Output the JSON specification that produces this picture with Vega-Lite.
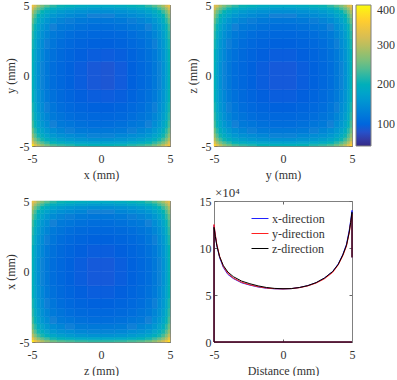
{"$schema":"https://vega.github.io/schema/vega-lite/v6.json","background":"white","padding":{"left":4,"top":-1,"right":0,"bottom":0},"columns":2,"bounds":"flush","spacing":{"row":55,"column":44},
"config":{"view":{"stroke":null},"font":"Liberation Serif","axis":{"labelFont":"Liberation Serif","titleFont":"Liberation Serif","labelFontSize":12,"titleFontSize":12,"titleFontWeight":"normal","labelColor":"#333333","titleColor":"#333333","domainColor":"#808080","tickColor":"#666666","tickSize":-3,"grid":false,"labelAngle":0,"labelFlush":false},"axisX":{"labelPadding":10,"titlePadding":5},"axisY":{"labelPadding":6,"titlePadding":2},"legend":{"labelFont":"Liberation Serif"}},
"datasets":{"cells":[
{"x0":-5,"x1":-4.85,"y0":-5,"y1":-4.85,"a":385,"b":365,"c":385},{"x0":-4.85,"x1":-4.65,"y0":-5,"y1":-4.85,"a":331,"b":329,"c":347},{"x0":-4.65,"x1":-4.4,"y0":-5,"y1":-4.85,"a":300,"b":298,"c":316},{"x0":-4.4,"x1":-4.1,"y0":-5,"y1":-4.85,"a":277,"b":275,"c":293},{"x0":-4.1,"x1":-3.7,"y0":-5,"y1":-4.85,"a":257,"b":255,"c":273},{"x0":-3.7,"x1":-3.2,"y0":-5,"y1":-4.85,"a":239,"b":237,"c":255},{"x0":-3.2,"x1":-2.6,"y0":-5,"y1":-4.85,"a":227,"b":225,"c":243},{"x0":-2.6,"x1":-1.9,"y0":-5,"y1":-4.85,"a":219,"b":217,"c":235},{"x0":-1.9,"x1":-1,"y0":-5,"y1":-4.85,"a":211,"b":209,"c":227},{"x0":-1,"x1":0,"y0":-5,"y1":-4.85,"a":207,"b":205,"c":223},{"x0":0,"x1":1,"y0":-5,"y1":-4.85,"a":207,"b":205,"c":223},{"x0":1,"x1":1.9,"y0":-5,"y1":-4.85,"a":211,"b":209,"c":227},{"x0":1.9,"x1":2.6,"y0":-5,"y1":-4.85,"a":219,"b":217,"c":235},{"x0":2.6,"x1":3.2,"y0":-5,"y1":-4.85,"a":227,"b":225,"c":243},{"x0":3.2,"x1":3.7,"y0":-5,"y1":-4.85,"a":239,"b":237,"c":255},{"x0":3.7,"x1":4.1,"y0":-5,"y1":-4.85,"a":257,"b":255,"c":273},{"x0":4.1,"x1":4.4,"y0":-5,"y1":-4.85,"a":277,"b":275,"c":293},{"x0":4.4,"x1":4.65,"y0":-5,"y1":-4.85,"a":300,"b":298,"c":316},{"x0":4.65,"x1":4.85,"y0":-5,"y1":-4.85,"a":325,"b":329,"c":345},{"x0":4.85,"x1":5,"y0":-5,"y1":-4.85,"a":345,"b":360,"c":375},
{"x0":-5,"x1":-4.85,"y0":-4.85,"y1":-4.65,"a":331,"b":329,"c":340},{"x0":-4.85,"x1":-4.65,"y0":-4.85,"y1":-4.65,"a":292,"b":288,"c":297},{"x0":-4.65,"x1":-4.4,"y0":-4.85,"y1":-4.65,"a":261,"b":260,"c":269},{"x0":-4.4,"x1":-4.1,"y0":-4.85,"y1":-4.65,"a":239,"b":238,"c":247},{"x0":-4.1,"x1":-3.7,"y0":-4.85,"y1":-4.65,"a":221,"b":220,"c":229},{"x0":-3.7,"x1":-3.2,"y0":-4.85,"y1":-4.65,"a":205,"b":204,"c":213},{"x0":-3.2,"x1":-2.6,"y0":-4.85,"y1":-4.65,"a":194,"b":193,"c":202},{"x0":-2.6,"x1":-1.9,"y0":-4.85,"y1":-4.65,"a":186,"b":185,"c":194},{"x0":-1.9,"x1":-1,"y0":-4.85,"y1":-4.65,"a":179,"b":178,"c":187},{"x0":-1,"x1":0,"y0":-4.85,"y1":-4.65,"a":175,"b":174,"c":183},{"x0":0,"x1":1,"y0":-4.85,"y1":-4.65,"a":175,"b":174,"c":183},{"x0":1,"x1":1.9,"y0":-4.85,"y1":-4.65,"a":179,"b":178,"c":187},{"x0":1.9,"x1":2.6,"y0":-4.85,"y1":-4.65,"a":186,"b":185,"c":194},{"x0":2.6,"x1":3.2,"y0":-4.85,"y1":-4.65,"a":194,"b":193,"c":202},{"x0":3.2,"x1":3.7,"y0":-4.85,"y1":-4.65,"a":205,"b":204,"c":213},{"x0":3.7,"x1":4.1,"y0":-4.85,"y1":-4.65,"a":221,"b":220,"c":229},{"x0":4.1,"x1":4.4,"y0":-4.85,"y1":-4.65,"a":239,"b":238,"c":247},{"x0":4.4,"x1":4.65,"y0":-4.85,"y1":-4.65,"a":261,"b":260,"c":269},{"x0":4.65,"x1":4.85,"y0":-4.85,"y1":-4.65,"a":285,"b":290,"c":295},{"x0":4.85,"x1":5,"y0":-4.85,"y1":-4.65,"a":323,"b":329,"c":338},
{"x0":-5,"x1":-4.85,"y0":-4.65,"y1":-4.4,"a":298,"b":296,"c":300},{"x0":-4.85,"x1":-4.65,"y0":-4.65,"y1":-4.4,"a":260,"b":259,"c":263},{"x0":-4.65,"x1":-4.4,"y0":-4.65,"y1":-4.4,"a":233,"b":232,"c":235},{"x0":-4.4,"x1":-4.1,"y0":-4.65,"y1":-4.4,"a":213,"b":212,"c":215},{"x0":-4.1,"x1":-3.7,"y0":-4.65,"y1":-4.4,"a":196,"b":195,"c":198},{"x0":-3.7,"x1":-3.2,"y0":-4.65,"y1":-4.4,"a":181,"b":180,"c":183},{"x0":-3.2,"x1":-2.6,"y0":-4.65,"y1":-4.4,"a":171,"b":170,"c":173},{"x0":-2.6,"x1":-1.9,"y0":-4.65,"y1":-4.4,"a":163,"b":162,"c":165},{"x0":-1.9,"x1":-1,"y0":-4.65,"y1":-4.4,"a":157,"b":156,"c":159},{"x0":-1,"x1":0,"y0":-4.65,"y1":-4.4,"a":153,"b":152,"c":155},{"x0":0,"x1":1,"y0":-4.65,"y1":-4.4,"a":153,"b":152,"c":155},{"x0":1,"x1":1.9,"y0":-4.65,"y1":-4.4,"a":157,"b":156,"c":159},{"x0":1.9,"x1":2.6,"y0":-4.65,"y1":-4.4,"a":163,"b":162,"c":165},{"x0":2.6,"x1":3.2,"y0":-4.65,"y1":-4.4,"a":171,"b":170,"c":173},{"x0":3.2,"x1":3.7,"y0":-4.65,"y1":-4.4,"a":181,"b":180,"c":183},{"x0":3.7,"x1":4.1,"y0":-4.65,"y1":-4.4,"a":196,"b":195,"c":198},{"x0":4.1,"x1":4.4,"y0":-4.65,"y1":-4.4,"a":213,"b":212,"c":215},{"x0":4.4,"x1":4.65,"y0":-4.65,"y1":-4.4,"a":233,"b":232,"c":235},{"x0":4.65,"x1":4.85,"y0":-4.65,"y1":-4.4,"a":257,"b":259,"c":262},{"x0":4.85,"x1":5,"y0":-4.65,"y1":-4.4,"a":292,"b":296,"c":300},
{"x0":-5,"x1":-4.85,"y0":-4.4,"y1":-4.1,"a":274,"b":273,"c":276},{"x0":-4.85,"x1":-4.65,"y0":-4.4,"y1":-4.1,"a":238,"b":237,"c":239},{"x0":-4.65,"x1":-4.4,"y0":-4.4,"y1":-4.1,"a":213,"b":212,"c":214},{"x0":-4.4,"x1":-4.1,"y0":-4.4,"y1":-4.1,"a":193,"b":193,"c":194},{"x0":-4.1,"x1":-3.7,"y0":-4.4,"y1":-4.1,"a":177,"b":177,"c":178},{"x0":-3.7,"x1":-3.2,"y0":-4.4,"y1":-4.1,"a":162,"b":162,"c":163},{"x0":-3.2,"x1":-2.6,"y0":-4.4,"y1":-4.1,"a":153,"b":153,"c":154},{"x0":-2.6,"x1":-1.9,"y0":-4.4,"y1":-4.1,"a":146,"b":146,"c":147},{"x0":-1.9,"x1":-1,"y0":-4.4,"y1":-4.1,"a":140,"b":140,"c":141},{"x0":-1,"x1":0,"y0":-4.4,"y1":-4.1,"a":136,"b":136,"c":137},{"x0":0,"x1":1,"y0":-4.4,"y1":-4.1,"a":136,"b":136,"c":137},{"x0":1,"x1":1.9,"y0":-4.4,"y1":-4.1,"a":140,"b":140,"c":141},{"x0":1.9,"x1":2.6,"y0":-4.4,"y1":-4.1,"a":146,"b":146,"c":147},{"x0":2.6,"x1":3.2,"y0":-4.4,"y1":-4.1,"a":153,"b":153,"c":154},{"x0":3.2,"x1":3.7,"y0":-4.4,"y1":-4.1,"a":162,"b":162,"c":163},{"x0":3.7,"x1":4.1,"y0":-4.4,"y1":-4.1,"a":177,"b":177,"c":178},{"x0":4.1,"x1":4.4,"y0":-4.4,"y1":-4.1,"a":193,"b":193,"c":194},{"x0":4.4,"x1":4.65,"y0":-4.4,"y1":-4.1,"a":212,"b":212,"c":214},{"x0":4.65,"x1":4.85,"y0":-4.4,"y1":-4.1,"a":235,"b":237,"c":238},{"x0":4.85,"x1":5,"y0":-4.4,"y1":-4.1,"a":270,"b":273,"c":275},
{"x0":-5,"x1":-4.85,"y0":-4.1,"y1":-3.7,"a":254,"b":253,"c":254},{"x0":-4.85,"x1":-4.65,"y0":-4.1,"y1":-3.7,"a":220,"b":219,"c":220},{"x0":-4.65,"x1":-4.4,"y0":-4.1,"y1":-3.7,"a":196,"b":195,"c":196},{"x0":-4.4,"x1":-4.1,"y0":-4.1,"y1":-3.7,"a":177,"b":177,"c":178},{"x0":-4.1,"x1":-3.7,"y0":-4.1,"y1":-3.7,"a":161,"b":161,"c":162},{"x0":-3.7,"x1":-3.2,"y0":-4.1,"y1":-3.7,"a":147,"b":147,"c":148},{"x0":-3.2,"x1":-2.6,"y0":-4.1,"y1":-3.7,"a":138,"b":138,"c":139},{"x0":-2.6,"x1":-1.9,"y0":-4.1,"y1":-3.7,"a":131,"b":131,"c":132},{"x0":-1.9,"x1":-1,"y0":-4.1,"y1":-3.7,"a":125,"b":125,"c":126},{"x0":-1,"x1":0,"y0":-4.1,"y1":-3.7,"a":122,"b":122,"c":123},{"x0":0,"x1":1,"y0":-4.1,"y1":-3.7,"a":122,"b":122,"c":123},{"x0":1,"x1":1.9,"y0":-4.1,"y1":-3.7,"a":125,"b":125,"c":126},{"x0":1.9,"x1":2.6,"y0":-4.1,"y1":-3.7,"a":131,"b":131,"c":132},{"x0":2.6,"x1":3.2,"y0":-4.1,"y1":-3.7,"a":138,"b":138,"c":139},{"x0":3.2,"x1":3.7,"y0":-4.1,"y1":-3.7,"a":147,"b":147,"c":148},{"x0":3.7,"x1":4.1,"y0":-4.1,"y1":-3.7,"a":161,"b":161,"c":162},{"x0":4.1,"x1":4.4,"y0":-4.1,"y1":-3.7,"a":177,"b":177,"c":178},{"x0":4.4,"x1":4.65,"y0":-4.1,"y1":-3.7,"a":195,"b":195,"c":196},{"x0":4.65,"x1":4.85,"y0":-4.1,"y1":-3.7,"a":218,"b":219,"c":220},{"x0":4.85,"x1":5,"y0":-4.1,"y1":-3.7,"a":251,"b":253,"c":254},
{"x0":-5,"x1":-4.85,"y0":-3.7,"y1":-3.2,"a":236,"b":235,"c":235},{"x0":-4.85,"x1":-4.65,"y0":-3.7,"y1":-3.2,"a":204,"b":203,"c":203},{"x0":-4.65,"x1":-4.4,"y0":-3.7,"y1":-3.2,"a":180,"b":180,"c":180},{"x0":-4.4,"x1":-4.1,"y0":-3.7,"y1":-3.2,"a":162,"b":162,"c":162},{"x0":-4.1,"x1":-3.7,"y0":-3.7,"y1":-3.2,"a":147,"b":147,"c":147},{"x0":-3.7,"x1":-3.2,"y0":-3.7,"y1":-3.2,"a":134,"b":134,"c":134},{"x0":-3.2,"x1":-2.6,"y0":-3.7,"y1":-3.2,"a":125,"b":125,"c":125},{"x0":-2.6,"x1":-1.9,"y0":-3.7,"y1":-3.2,"a":119,"b":119,"c":119},{"x0":-1.9,"x1":-1,"y0":-3.7,"y1":-3.2,"a":113,"b":113,"c":113},{"x0":-1,"x1":0,"y0":-3.7,"y1":-3.2,"a":110,"b":110,"c":110},{"x0":0,"x1":1,"y0":-3.7,"y1":-3.2,"a":110,"b":110,"c":110},{"x0":1,"x1":1.9,"y0":-3.7,"y1":-3.2,"a":113,"b":113,"c":113},{"x0":1.9,"x1":2.6,"y0":-3.7,"y1":-3.2,"a":119,"b":119,"c":119},{"x0":2.6,"x1":3.2,"y0":-3.7,"y1":-3.2,"a":125,"b":125,"c":125},{"x0":3.2,"x1":3.7,"y0":-3.7,"y1":-3.2,"a":134,"b":134,"c":134},{"x0":3.7,"x1":4.1,"y0":-3.7,"y1":-3.2,"a":147,"b":147,"c":147},{"x0":4.1,"x1":4.4,"y0":-3.7,"y1":-3.2,"a":162,"b":162,"c":162},{"x0":4.4,"x1":4.65,"y0":-3.7,"y1":-3.2,"a":180,"b":180,"c":180},{"x0":4.65,"x1":4.85,"y0":-3.7,"y1":-3.2,"a":202,"b":203,"c":203},{"x0":4.85,"x1":5,"y0":-3.7,"y1":-3.2,"a":233,"b":235,"c":235},
{"x0":-5,"x1":-4.85,"y0":-3.2,"y1":-2.6,"a":224,"b":223,"c":223},{"x0":-4.85,"x1":-4.65,"y0":-3.2,"y1":-2.6,"a":193,"b":192,"c":192},{"x0":-4.65,"x1":-4.4,"y0":-3.2,"y1":-2.6,"a":170,"b":170,"c":170},{"x0":-4.4,"x1":-4.1,"y0":-3.2,"y1":-2.6,"a":153,"b":153,"c":153},{"x0":-4.1,"x1":-3.7,"y0":-3.2,"y1":-2.6,"a":138,"b":138,"c":138},{"x0":-3.7,"x1":-3.2,"y0":-3.2,"y1":-2.6,"a":125,"b":125,"c":125},{"x0":-3.2,"x1":-2.6,"y0":-3.2,"y1":-2.6,"a":117,"b":117,"c":117},{"x0":-2.6,"x1":-1.9,"y0":-3.2,"y1":-2.6,"a":110,"b":110,"c":110},{"x0":-1.9,"x1":-1,"y0":-3.2,"y1":-2.6,"a":105,"b":105,"c":105},{"x0":-1,"x1":0,"y0":-3.2,"y1":-2.6,"a":102,"b":102,"c":102},{"x0":0,"x1":1,"y0":-3.2,"y1":-2.6,"a":101,"b":102,"c":102},{"x0":1,"x1":1.9,"y0":-3.2,"y1":-2.6,"a":104,"b":105,"c":105},{"x0":1.9,"x1":2.6,"y0":-3.2,"y1":-2.6,"a":110,"b":110,"c":110},{"x0":2.6,"x1":3.2,"y0":-3.2,"y1":-2.6,"a":117,"b":117,"c":117},{"x0":3.2,"x1":3.7,"y0":-3.2,"y1":-2.6,"a":125,"b":125,"c":125},{"x0":3.7,"x1":4.1,"y0":-3.2,"y1":-2.6,"a":138,"b":138,"c":138},{"x0":4.1,"x1":4.4,"y0":-3.2,"y1":-2.6,"a":153,"b":153,"c":153},{"x0":4.4,"x1":4.65,"y0":-3.2,"y1":-2.6,"a":170,"b":170,"c":170},{"x0":4.65,"x1":4.85,"y0":-3.2,"y1":-2.6,"a":191,"b":192,"c":192},{"x0":4.85,"x1":5,"y0":-3.2,"y1":-2.6,"a":221,"b":223,"c":223},
{"x0":-5,"x1":-4.85,"y0":-2.6,"y1":-1.9,"a":216,"b":215,"c":215},{"x0":-4.85,"x1":-4.65,"y0":-2.6,"y1":-1.9,"a":185,"b":184,"c":184},{"x0":-4.65,"x1":-4.4,"y0":-2.6,"y1":-1.9,"a":162,"b":162,"c":162},{"x0":-4.4,"x1":-4.1,"y0":-2.6,"y1":-1.9,"a":146,"b":146,"c":146},{"x0":-4.1,"x1":-3.7,"y0":-2.6,"y1":-1.9,"a":131,"b":131,"c":131},{"x0":-3.7,"x1":-3.2,"y0":-2.6,"y1":-1.9,"a":119,"b":119,"c":119},{"x0":-3.2,"x1":-2.6,"y0":-2.6,"y1":-1.9,"a":110,"b":110,"c":110},{"x0":-2.6,"x1":-1.9,"y0":-2.6,"y1":-1.9,"a":104,"b":104,"c":104},{"x0":-1.9,"x1":-1,"y0":-2.6,"y1":-1.9,"a":99,"b":99,"c":99},{"x0":-1,"x1":0,"y0":-2.6,"y1":-1.9,"a":96,"b":96,"c":96},{"x0":0,"x1":1,"y0":-2.6,"y1":-1.9,"a":95,"b":96,"c":96},{"x0":1,"x1":1.9,"y0":-2.6,"y1":-1.9,"a":98,"b":99,"c":99},{"x0":1.9,"x1":2.6,"y0":-2.6,"y1":-1.9,"a":104,"b":104,"c":104},{"x0":2.6,"x1":3.2,"y0":-2.6,"y1":-1.9,"a":110,"b":110,"c":110},{"x0":3.2,"x1":3.7,"y0":-2.6,"y1":-1.9,"a":119,"b":119,"c":119},{"x0":3.7,"x1":4.1,"y0":-2.6,"y1":-1.9,"a":131,"b":131,"c":131},{"x0":4.1,"x1":4.4,"y0":-2.6,"y1":-1.9,"a":146,"b":146,"c":146},{"x0":4.4,"x1":4.65,"y0":-2.6,"y1":-1.9,"a":162,"b":162,"c":162},{"x0":4.65,"x1":4.85,"y0":-2.6,"y1":-1.9,"a":183,"b":184,"c":184},{"x0":4.85,"x1":5,"y0":-2.6,"y1":-1.9,"a":213,"b":215,"c":215},
{"x0":-5,"x1":-4.85,"y0":-1.9,"y1":-1,"a":208,"b":207,"c":207},{"x0":-4.85,"x1":-4.65,"y0":-1.9,"y1":-1,"a":178,"b":177,"c":177},{"x0":-4.65,"x1":-4.4,"y0":-1.9,"y1":-1,"a":156,"b":156,"c":156},{"x0":-4.4,"x1":-4.1,"y0":-1.9,"y1":-1,"a":140,"b":140,"c":140},{"x0":-4.1,"x1":-3.7,"y0":-1.9,"y1":-1,"a":125,"b":125,"c":125},{"x0":-3.7,"x1":-3.2,"y0":-1.9,"y1":-1,"a":113,"b":113,"c":113},{"x0":-3.2,"x1":-2.6,"y0":-1.9,"y1":-1,"a":105,"b":105,"c":105},{"x0":-2.6,"x1":-1.9,"y0":-1.9,"y1":-1,"a":99,"b":99,"c":99},{"x0":-1.9,"x1":-1,"y0":-1.9,"y1":-1,"a":94,"b":94,"c":94},{"x0":-1,"x1":0,"y0":-1.9,"y1":-1,"a":91,"b":91,"c":91},{"x0":0,"x1":1,"y0":-1.9,"y1":-1,"a":90,"b":91,"c":91},{"x0":1,"x1":1.9,"y0":-1.9,"y1":-1,"a":92,"b":94,"c":94},{"x0":1.9,"x1":2.6,"y0":-1.9,"y1":-1,"a":98,"b":99,"c":99},{"x0":2.6,"x1":3.2,"y0":-1.9,"y1":-1,"a":105,"b":105,"c":105},{"x0":3.2,"x1":3.7,"y0":-1.9,"y1":-1,"a":113,"b":113,"c":113},{"x0":3.7,"x1":4.1,"y0":-1.9,"y1":-1,"a":125,"b":125,"c":125},{"x0":4.1,"x1":4.4,"y0":-1.9,"y1":-1,"a":140,"b":140,"c":140},{"x0":4.4,"x1":4.65,"y0":-1.9,"y1":-1,"a":156,"b":156,"c":156},{"x0":4.65,"x1":4.85,"y0":-1.9,"y1":-1,"a":176,"b":177,"c":177},{"x0":4.85,"x1":5,"y0":-1.9,"y1":-1,"a":205,"b":207,"c":207},
{"x0":-5,"x1":-4.85,"y0":-1,"y1":0,"a":204,"b":203,"c":203},{"x0":-4.85,"x1":-4.65,"y0":-1,"y1":0,"a":174,"b":173,"c":173},{"x0":-4.65,"x1":-4.4,"y0":-1,"y1":0,"a":152,"b":152,"c":152},{"x0":-4.4,"x1":-4.1,"y0":-1,"y1":0,"a":136,"b":136,"c":136},{"x0":-4.1,"x1":-3.7,"y0":-1,"y1":0,"a":122,"b":122,"c":122},{"x0":-3.7,"x1":-3.2,"y0":-1,"y1":0,"a":110,"b":110,"c":110},{"x0":-3.2,"x1":-2.6,"y0":-1,"y1":0,"a":102,"b":102,"c":102},{"x0":-2.6,"x1":-1.9,"y0":-1,"y1":0,"a":96,"b":96,"c":96},{"x0":-1.9,"x1":-1,"y0":-1,"y1":0,"a":91,"b":91,"c":91},{"x0":-1,"x1":0,"y0":-1,"y1":0,"a":87,"b":88,"c":88},{"x0":0,"x1":1,"y0":-1,"y1":0,"a":85,"b":88,"c":88},{"x0":1,"x1":1.9,"y0":-1,"y1":0,"a":89,"b":91,"c":91},{"x0":1.9,"x1":2.6,"y0":-1,"y1":0,"a":95,"b":96,"c":96},{"x0":2.6,"x1":3.2,"y0":-1,"y1":0,"a":102,"b":102,"c":102},{"x0":3.2,"x1":3.7,"y0":-1,"y1":0,"a":110,"b":110,"c":110},{"x0":3.7,"x1":4.1,"y0":-1,"y1":0,"a":122,"b":122,"c":122},{"x0":4.1,"x1":4.4,"y0":-1,"y1":0,"a":136,"b":136,"c":136},{"x0":4.4,"x1":4.65,"y0":-1,"y1":0,"a":152,"b":152,"c":152},{"x0":4.65,"x1":4.85,"y0":-1,"y1":0,"a":172,"b":173,"c":173},{"x0":4.85,"x1":5,"y0":-1,"y1":0,"a":201,"b":203,"c":203},
{"x0":-5,"x1":-4.85,"y0":0,"y1":1,"a":203,"b":203,"c":203},{"x0":-4.85,"x1":-4.65,"y0":0,"y1":1,"a":173,"b":173,"c":173},{"x0":-4.65,"x1":-4.4,"y0":0,"y1":1,"a":152,"b":152,"c":152},{"x0":-4.4,"x1":-4.1,"y0":0,"y1":1,"a":136,"b":136,"c":136},{"x0":-4.1,"x1":-3.7,"y0":0,"y1":1,"a":122,"b":122,"c":122},{"x0":-3.7,"x1":-3.2,"y0":0,"y1":1,"a":110,"b":110,"c":110},{"x0":-3.2,"x1":-2.6,"y0":0,"y1":1,"a":102,"b":102,"c":102},{"x0":-2.6,"x1":-1.9,"y0":0,"y1":1,"a":96,"b":96,"c":96},{"x0":-1.9,"x1":-1,"y0":0,"y1":1,"a":91,"b":91,"c":91},{"x0":-1,"x1":0,"y0":0,"y1":1,"a":87,"b":88,"c":88},{"x0":0,"x1":1,"y0":0,"y1":1,"a":85,"b":88,"c":88},{"x0":1,"x1":1.9,"y0":0,"y1":1,"a":89,"b":91,"c":91},{"x0":1.9,"x1":2.6,"y0":0,"y1":1,"a":95,"b":96,"c":96},{"x0":2.6,"x1":3.2,"y0":0,"y1":1,"a":102,"b":102,"c":102},{"x0":3.2,"x1":3.7,"y0":0,"y1":1,"a":110,"b":110,"c":110},{"x0":3.7,"x1":4.1,"y0":0,"y1":1,"a":122,"b":122,"c":122},{"x0":4.1,"x1":4.4,"y0":0,"y1":1,"a":136,"b":136,"c":136},{"x0":4.4,"x1":4.65,"y0":0,"y1":1,"a":152,"b":152,"c":152},{"x0":4.65,"x1":4.85,"y0":0,"y1":1,"a":172,"b":173,"c":173},{"x0":4.85,"x1":5,"y0":0,"y1":1,"a":201,"b":203,"c":203},
{"x0":-5,"x1":-4.85,"y0":1,"y1":1.9,"a":207,"b":207,"c":207},{"x0":-4.85,"x1":-4.65,"y0":1,"y1":1.9,"a":177,"b":177,"c":177},{"x0":-4.65,"x1":-4.4,"y0":1,"y1":1.9,"a":156,"b":156,"c":156},{"x0":-4.4,"x1":-4.1,"y0":1,"y1":1.9,"a":140,"b":140,"c":140},{"x0":-4.1,"x1":-3.7,"y0":1,"y1":1.9,"a":125,"b":125,"c":125},{"x0":-3.7,"x1":-3.2,"y0":1,"y1":1.9,"a":113,"b":113,"c":113},{"x0":-3.2,"x1":-2.6,"y0":1,"y1":1.9,"a":105,"b":105,"c":105},{"x0":-2.6,"x1":-1.9,"y0":1,"y1":1.9,"a":99,"b":99,"c":99},{"x0":-1.9,"x1":-1,"y0":1,"y1":1.9,"a":94,"b":94,"c":94},{"x0":-1,"x1":0,"y0":1,"y1":1.9,"a":91,"b":91,"c":91},{"x0":0,"x1":1,"y0":1,"y1":1.9,"a":90,"b":91,"c":91},{"x0":1,"x1":1.9,"y0":1,"y1":1.9,"a":92,"b":94,"c":94},{"x0":1.9,"x1":2.6,"y0":1,"y1":1.9,"a":98,"b":99,"c":99},{"x0":2.6,"x1":3.2,"y0":1,"y1":1.9,"a":105,"b":105,"c":105},{"x0":3.2,"x1":3.7,"y0":1,"y1":1.9,"a":113,"b":113,"c":113},{"x0":3.7,"x1":4.1,"y0":1,"y1":1.9,"a":125,"b":125,"c":125},{"x0":4.1,"x1":4.4,"y0":1,"y1":1.9,"a":140,"b":140,"c":140},{"x0":4.4,"x1":4.65,"y0":1,"y1":1.9,"a":156,"b":156,"c":156},{"x0":4.65,"x1":4.85,"y0":1,"y1":1.9,"a":176,"b":177,"c":177},{"x0":4.85,"x1":5,"y0":1,"y1":1.9,"a":205,"b":207,"c":207},
{"x0":-5,"x1":-4.85,"y0":1.9,"y1":2.6,"a":215,"b":215,"c":215},{"x0":-4.85,"x1":-4.65,"y0":1.9,"y1":2.6,"a":184,"b":184,"c":184},{"x0":-4.65,"x1":-4.4,"y0":1.9,"y1":2.6,"a":162,"b":162,"c":162},{"x0":-4.4,"x1":-4.1,"y0":1.9,"y1":2.6,"a":146,"b":146,"c":146},{"x0":-4.1,"x1":-3.7,"y0":1.9,"y1":2.6,"a":131,"b":131,"c":131},{"x0":-3.7,"x1":-3.2,"y0":1.9,"y1":2.6,"a":119,"b":119,"c":119},{"x0":-3.2,"x1":-2.6,"y0":1.9,"y1":2.6,"a":110,"b":110,"c":110},{"x0":-2.6,"x1":-1.9,"y0":1.9,"y1":2.6,"a":104,"b":104,"c":104},{"x0":-1.9,"x1":-1,"y0":1.9,"y1":2.6,"a":99,"b":99,"c":99},{"x0":-1,"x1":0,"y0":1.9,"y1":2.6,"a":96,"b":96,"c":96},{"x0":0,"x1":1,"y0":1.9,"y1":2.6,"a":95,"b":96,"c":96},{"x0":1,"x1":1.9,"y0":1.9,"y1":2.6,"a":98,"b":99,"c":99},{"x0":1.9,"x1":2.6,"y0":1.9,"y1":2.6,"a":104,"b":104,"c":104},{"x0":2.6,"x1":3.2,"y0":1.9,"y1":2.6,"a":110,"b":110,"c":110},{"x0":3.2,"x1":3.7,"y0":1.9,"y1":2.6,"a":119,"b":119,"c":119},{"x0":3.7,"x1":4.1,"y0":1.9,"y1":2.6,"a":131,"b":131,"c":131},{"x0":4.1,"x1":4.4,"y0":1.9,"y1":2.6,"a":146,"b":146,"c":146},{"x0":4.4,"x1":4.65,"y0":1.9,"y1":2.6,"a":162,"b":162,"c":162},{"x0":4.65,"x1":4.85,"y0":1.9,"y1":2.6,"a":183,"b":184,"c":184},{"x0":4.85,"x1":5,"y0":1.9,"y1":2.6,"a":213,"b":215,"c":215},
{"x0":-5,"x1":-4.85,"y0":2.6,"y1":3.2,"a":223,"b":223,"c":223},{"x0":-4.85,"x1":-4.65,"y0":2.6,"y1":3.2,"a":192,"b":192,"c":192},{"x0":-4.65,"x1":-4.4,"y0":2.6,"y1":3.2,"a":170,"b":170,"c":170},{"x0":-4.4,"x1":-4.1,"y0":2.6,"y1":3.2,"a":153,"b":153,"c":153},{"x0":-4.1,"x1":-3.7,"y0":2.6,"y1":3.2,"a":138,"b":138,"c":138},{"x0":-3.7,"x1":-3.2,"y0":2.6,"y1":3.2,"a":125,"b":125,"c":125},{"x0":-3.2,"x1":-2.6,"y0":2.6,"y1":3.2,"a":117,"b":117,"c":117},{"x0":-2.6,"x1":-1.9,"y0":2.6,"y1":3.2,"a":110,"b":110,"c":110},{"x0":-1.9,"x1":-1,"y0":2.6,"y1":3.2,"a":105,"b":105,"c":105},{"x0":-1,"x1":0,"y0":2.6,"y1":3.2,"a":102,"b":102,"c":102},{"x0":0,"x1":1,"y0":2.6,"y1":3.2,"a":101,"b":102,"c":102},{"x0":1,"x1":1.9,"y0":2.6,"y1":3.2,"a":104,"b":105,"c":105},{"x0":1.9,"x1":2.6,"y0":2.6,"y1":3.2,"a":110,"b":110,"c":110},{"x0":2.6,"x1":3.2,"y0":2.6,"y1":3.2,"a":117,"b":117,"c":117},{"x0":3.2,"x1":3.7,"y0":2.6,"y1":3.2,"a":125,"b":125,"c":125},{"x0":3.7,"x1":4.1,"y0":2.6,"y1":3.2,"a":138,"b":138,"c":138},{"x0":4.1,"x1":4.4,"y0":2.6,"y1":3.2,"a":153,"b":153,"c":153},{"x0":4.4,"x1":4.65,"y0":2.6,"y1":3.2,"a":170,"b":170,"c":170},{"x0":4.65,"x1":4.85,"y0":2.6,"y1":3.2,"a":191,"b":192,"c":192},{"x0":4.85,"x1":5,"y0":2.6,"y1":3.2,"a":221,"b":223,"c":223},
{"x0":-5,"x1":-4.85,"y0":3.2,"y1":3.7,"a":234,"b":234,"c":234},{"x0":-4.85,"x1":-4.65,"y0":3.2,"y1":3.7,"a":203,"b":203,"c":203},{"x0":-4.65,"x1":-4.4,"y0":3.2,"y1":3.7,"a":180,"b":180,"c":180},{"x0":-4.4,"x1":-4.1,"y0":3.2,"y1":3.7,"a":162,"b":162,"c":162},{"x0":-4.1,"x1":-3.7,"y0":3.2,"y1":3.7,"a":147,"b":147,"c":147},{"x0":-3.7,"x1":-3.2,"y0":3.2,"y1":3.7,"a":134,"b":134,"c":134},{"x0":-3.2,"x1":-2.6,"y0":3.2,"y1":3.7,"a":125,"b":125,"c":125},{"x0":-2.6,"x1":-1.9,"y0":3.2,"y1":3.7,"a":119,"b":119,"c":119},{"x0":-1.9,"x1":-1,"y0":3.2,"y1":3.7,"a":113,"b":113,"c":113},{"x0":-1,"x1":0,"y0":3.2,"y1":3.7,"a":110,"b":110,"c":110},{"x0":0,"x1":1,"y0":3.2,"y1":3.7,"a":110,"b":110,"c":110},{"x0":1,"x1":1.9,"y0":3.2,"y1":3.7,"a":113,"b":113,"c":113},{"x0":1.9,"x1":2.6,"y0":3.2,"y1":3.7,"a":119,"b":119,"c":119},{"x0":2.6,"x1":3.2,"y0":3.2,"y1":3.7,"a":125,"b":125,"c":125},{"x0":3.2,"x1":3.7,"y0":3.2,"y1":3.7,"a":134,"b":134,"c":134},{"x0":3.7,"x1":4.1,"y0":3.2,"y1":3.7,"a":147,"b":147,"c":147},{"x0":4.1,"x1":4.4,"y0":3.2,"y1":3.7,"a":162,"b":162,"c":162},{"x0":4.4,"x1":4.65,"y0":3.2,"y1":3.7,"a":180,"b":180,"c":180},{"x0":4.65,"x1":4.85,"y0":3.2,"y1":3.7,"a":202,"b":203,"c":203},{"x0":4.85,"x1":5,"y0":3.2,"y1":3.7,"a":233,"b":234,"c":234},
{"x0":-5,"x1":-4.85,"y0":3.7,"y1":4.1,"a":251,"b":251,"c":251},{"x0":-4.85,"x1":-4.65,"y0":3.7,"y1":4.1,"a":218,"b":218,"c":218},{"x0":-4.65,"x1":-4.4,"y0":3.7,"y1":4.1,"a":194,"b":194,"c":194},{"x0":-4.4,"x1":-4.1,"y0":3.7,"y1":4.1,"a":176,"b":176,"c":176},{"x0":-4.1,"x1":-3.7,"y0":3.7,"y1":4.1,"a":160,"b":160,"c":160},{"x0":-3.7,"x1":-3.2,"y0":3.7,"y1":4.1,"a":146,"b":146,"c":146},{"x0":-3.2,"x1":-2.6,"y0":3.7,"y1":4.1,"a":137,"b":137,"c":137},{"x0":-2.6,"x1":-1.9,"y0":3.7,"y1":4.1,"a":130,"b":130,"c":130},{"x0":-1.9,"x1":-1,"y0":3.7,"y1":4.1,"a":124,"b":124,"c":124},{"x0":-1,"x1":0,"y0":3.7,"y1":4.1,"a":121,"b":121,"c":121},{"x0":0,"x1":1,"y0":3.7,"y1":4.1,"a":121,"b":121,"c":121},{"x0":1,"x1":1.9,"y0":3.7,"y1":4.1,"a":124,"b":124,"c":124},{"x0":1.9,"x1":2.6,"y0":3.7,"y1":4.1,"a":130,"b":130,"c":130},{"x0":2.6,"x1":3.2,"y0":3.7,"y1":4.1,"a":137,"b":137,"c":137},{"x0":3.2,"x1":3.7,"y0":3.7,"y1":4.1,"a":146,"b":146,"c":146},{"x0":3.7,"x1":4.1,"y0":3.7,"y1":4.1,"a":160,"b":160,"c":160},{"x0":4.1,"x1":4.4,"y0":3.7,"y1":4.1,"a":176,"b":176,"c":176},{"x0":4.4,"x1":4.65,"y0":3.7,"y1":4.1,"a":194,"b":194,"c":194},{"x0":4.65,"x1":4.85,"y0":3.7,"y1":4.1,"a":218,"b":218,"c":218},{"x0":4.85,"x1":5,"y0":3.7,"y1":4.1,"a":250,"b":250,"c":250},
{"x0":-5,"x1":-4.85,"y0":4.1,"y1":4.4,"a":268,"b":268,"c":268},{"x0":-4.85,"x1":-4.65,"y0":4.1,"y1":4.4,"a":233,"b":233,"c":233},{"x0":-4.65,"x1":-4.4,"y0":4.1,"y1":4.4,"a":209,"b":209,"c":209},{"x0":-4.4,"x1":-4.1,"y0":4.1,"y1":4.4,"a":190,"b":190,"c":190},{"x0":-4.1,"x1":-3.7,"y0":4.1,"y1":4.4,"a":175,"b":175,"c":175},{"x0":-3.7,"x1":-3.2,"y0":4.1,"y1":4.4,"a":160,"b":160,"c":160},{"x0":-3.2,"x1":-2.6,"y0":4.1,"y1":4.4,"a":151,"b":151,"c":151},{"x0":-2.6,"x1":-1.9,"y0":4.1,"y1":4.4,"a":144,"b":144,"c":144},{"x0":-1.9,"x1":-1,"y0":4.1,"y1":4.4,"a":138,"b":138,"c":138},{"x0":-1,"x1":0,"y0":4.1,"y1":4.4,"a":134,"b":134,"c":134},{"x0":0,"x1":1,"y0":4.1,"y1":4.4,"a":134,"b":134,"c":134},{"x0":1,"x1":1.9,"y0":4.1,"y1":4.4,"a":138,"b":138,"c":138},{"x0":1.9,"x1":2.6,"y0":4.1,"y1":4.4,"a":144,"b":144,"c":144},{"x0":2.6,"x1":3.2,"y0":4.1,"y1":4.4,"a":151,"b":151,"c":151},{"x0":3.2,"x1":3.7,"y0":4.1,"y1":4.4,"a":160,"b":160,"c":160},{"x0":3.7,"x1":4.1,"y0":4.1,"y1":4.4,"a":175,"b":175,"c":175},{"x0":4.1,"x1":4.4,"y0":4.1,"y1":4.4,"a":190,"b":190,"c":190},{"x0":4.4,"x1":4.65,"y0":4.1,"y1":4.4,"a":209,"b":209,"c":209},{"x0":4.65,"x1":4.85,"y0":4.1,"y1":4.4,"a":233,"b":233,"c":233},{"x0":4.85,"x1":5,"y0":4.1,"y1":4.4,"a":267,"b":267,"c":267},
{"x0":-5,"x1":-4.85,"y0":4.4,"y1":4.65,"a":290,"b":288,"c":290},{"x0":-4.85,"x1":-4.65,"y0":4.4,"y1":4.65,"a":253,"b":252,"c":253},{"x0":-4.65,"x1":-4.4,"y0":4.4,"y1":4.65,"a":228,"b":228,"c":228},{"x0":-4.4,"x1":-4.1,"y0":4.4,"y1":4.65,"a":208,"b":208,"c":208},{"x0":-4.1,"x1":-3.7,"y0":4.4,"y1":4.65,"a":191,"b":191,"c":191},{"x0":-3.7,"x1":-3.2,"y0":4.4,"y1":4.65,"a":176,"b":176,"c":176},{"x0":-3.2,"x1":-2.6,"y0":4.4,"y1":4.65,"a":166,"b":166,"c":166},{"x0":-2.6,"x1":-1.9,"y0":4.4,"y1":4.65,"a":158,"b":158,"c":158},{"x0":-1.9,"x1":-1,"y0":4.4,"y1":4.65,"a":152,"b":152,"c":152},{"x0":-1,"x1":0,"y0":4.4,"y1":4.65,"a":148,"b":148,"c":148},{"x0":0,"x1":1,"y0":4.4,"y1":4.65,"a":148,"b":148,"c":148},{"x0":1,"x1":1.9,"y0":4.4,"y1":4.65,"a":152,"b":152,"c":152},{"x0":1.9,"x1":2.6,"y0":4.4,"y1":4.65,"a":158,"b":158,"c":158},{"x0":2.6,"x1":3.2,"y0":4.4,"y1":4.65,"a":166,"b":166,"c":166},{"x0":3.2,"x1":3.7,"y0":4.4,"y1":4.65,"a":176,"b":176,"c":176},{"x0":3.7,"x1":4.1,"y0":4.4,"y1":4.65,"a":191,"b":191,"c":191},{"x0":4.1,"x1":4.4,"y0":4.4,"y1":4.65,"a":208,"b":208,"c":208},{"x0":4.4,"x1":4.65,"y0":4.4,"y1":4.65,"a":228,"b":228,"c":228},{"x0":4.65,"x1":4.85,"y0":4.4,"y1":4.65,"a":253,"b":252,"c":252},{"x0":4.85,"x1":5,"y0":4.4,"y1":4.65,"a":288,"b":288,"c":286},
{"x0":-5,"x1":-4.85,"y0":4.65,"y1":4.85,"a":315,"b":312,"c":314},{"x0":-4.85,"x1":-4.65,"y0":4.65,"y1":4.85,"a":278,"b":276,"c":278},{"x0":-4.65,"x1":-4.4,"y0":4.65,"y1":4.85,"a":251,"b":251,"c":251},{"x0":-4.4,"x1":-4.1,"y0":4.65,"y1":4.85,"a":230,"b":230,"c":230},{"x0":-4.1,"x1":-3.7,"y0":4.65,"y1":4.85,"a":212,"b":212,"c":212},{"x0":-3.7,"x1":-3.2,"y0":4.65,"y1":4.85,"a":196,"b":196,"c":196},{"x0":-3.2,"x1":-2.6,"y0":4.65,"y1":4.85,"a":185,"b":185,"c":185},{"x0":-2.6,"x1":-1.9,"y0":4.65,"y1":4.85,"a":177,"b":177,"c":177},{"x0":-1.9,"x1":-1,"y0":4.65,"y1":4.85,"a":170,"b":170,"c":170},{"x0":-1,"x1":0,"y0":4.65,"y1":4.85,"a":166,"b":166,"c":166},{"x0":0,"x1":1,"y0":4.65,"y1":4.85,"a":166,"b":166,"c":166},{"x0":1,"x1":1.9,"y0":4.65,"y1":4.85,"a":170,"b":170,"c":170},{"x0":1.9,"x1":2.6,"y0":4.65,"y1":4.85,"a":177,"b":177,"c":177},{"x0":2.6,"x1":3.2,"y0":4.65,"y1":4.85,"a":185,"b":185,"c":185},{"x0":3.2,"x1":3.7,"y0":4.65,"y1":4.85,"a":196,"b":196,"c":196},{"x0":3.7,"x1":4.1,"y0":4.65,"y1":4.85,"a":212,"b":212,"c":212},{"x0":4.1,"x1":4.4,"y0":4.65,"y1":4.85,"a":230,"b":230,"c":230},{"x0":4.4,"x1":4.65,"y0":4.65,"y1":4.85,"a":251,"b":251,"c":251},{"x0":4.65,"x1":4.85,"y0":4.65,"y1":4.85,"a":277,"b":276,"c":276},{"x0":4.85,"x1":5,"y0":4.65,"y1":4.85,"a":312,"b":312,"c":310},
{"x0":-5,"x1":-4.85,"y0":4.85,"y1":5,"a":340,"b":325,"c":335},{"x0":-4.85,"x1":-4.65,"y0":4.85,"y1":5,"a":315,"b":312,"c":314},{"x0":-4.65,"x1":-4.4,"y0":4.85,"y1":5,"a":284,"b":284,"c":284},{"x0":-4.4,"x1":-4.1,"y0":4.85,"y1":5,"a":261,"b":261,"c":261},{"x0":-4.1,"x1":-3.7,"y0":4.85,"y1":5,"a":241,"b":241,"c":241},{"x0":-3.7,"x1":-3.2,"y0":4.85,"y1":5,"a":223,"b":223,"c":223},{"x0":-3.2,"x1":-2.6,"y0":4.85,"y1":5,"a":211,"b":211,"c":211},{"x0":-2.6,"x1":-1.9,"y0":4.85,"y1":5,"a":203,"b":203,"c":203},{"x0":-1.9,"x1":-1,"y0":4.85,"y1":5,"a":195,"b":195,"c":195},{"x0":-1,"x1":0,"y0":4.85,"y1":5,"a":191,"b":191,"c":191},{"x0":0,"x1":1,"y0":4.85,"y1":5,"a":191,"b":191,"c":191},{"x0":1,"x1":1.9,"y0":4.85,"y1":5,"a":195,"b":195,"c":195},{"x0":1.9,"x1":2.6,"y0":4.85,"y1":5,"a":203,"b":203,"c":203},{"x0":2.6,"x1":3.2,"y0":4.85,"y1":5,"a":211,"b":211,"c":211},{"x0":3.2,"x1":3.7,"y0":4.85,"y1":5,"a":223,"b":223,"c":223},{"x0":3.7,"x1":4.1,"y0":4.85,"y1":5,"a":241,"b":241,"c":241},{"x0":4.1,"x1":4.4,"y0":4.85,"y1":5,"a":261,"b":261,"c":261},{"x0":4.4,"x1":4.65,"y0":4.85,"y1":5,"a":284,"b":284,"c":284},{"x0":4.65,"x1":4.85,"y0":4.85,"y1":5,"a":312,"b":312,"c":310},{"x0":4.85,"x1":5,"y0":4.85,"y1":5,"a":338,"b":330,"c":325}
],
"corner":[{"x":-5,"y":-5}]},
"concat":[
{"width":138,"height":141,"resolve":{"axis":{"x":"independent","y":"independent"}},"layer":[
{"data":{"name":"cells"},"mark":{"type":"rect","strokeWidth":0.5},"encoding":{"x":{"field":"x0","type":"quantitative","scale":{"domain":[-5,5]},"axis":{"values":[-5,0,5],"labelExpr":"datum.value+''","title":"x (mm)"}},"x2":{"field":"x1"},"y":{"field":"y0","type":"quantitative","scale":{"domain":[-5,5]},"axis":{"values":[-5,0,5],"labelExpr":"datum.value+''","title":"y (mm)"}},"y2":{"field":"y1"},"color":{"field":"a","type":"quantitative","legend":null,"scale":{"domain":[45,400],"range":["#352a87","#0f5cdd","#1481d6","#06a4ca","#2eb7a4","#87bf77","#d1bb59","#fec832","#f9fb0e"]}},"stroke":{"field":"a","type":"quantitative","legend":null,"scale":{"domain":[45,400],"range":["#352a87","#0f5cdd","#1481d6","#06a4ca","#2eb7a4","#87bf77","#d1bb59","#fec832","#f9fb0e"]}}}},
{"data":{"name":"corner"},"mark":{"type":"point","opacity":0},"encoding":{"x":{"field":"x","type":"quantitative","scale":{"domain":[-5,5]},"axis":{"orient":"top","values":[-5,0,5],"labels":false,"title":null}},"y":{"field":"y","type":"quantitative","scale":{"domain":[-5,5]},"axis":{"orient":"right","values":[-5,0,5],"labels":false,"title":null}}}}
]},
{"width":138,"height":141,"resolve":{"axis":{"x":"independent","y":"independent"}},"layer":[
{"data":{"name":"cells"},"mark":{"type":"rect","strokeWidth":0.5},"encoding":{"x":{"field":"x0","type":"quantitative","scale":{"domain":[-5,5]},"axis":{"values":[-5,0,5],"labelExpr":"datum.value+''","title":"y (mm)"}},"x2":{"field":"x1"},"y":{"field":"y0","type":"quantitative","scale":{"domain":[-5,5]},"axis":{"values":[-5,0,5],"labelExpr":"datum.value+''","title":"z (mm)"}},"y2":{"field":"y1"},"color":{"field":"b","type":"quantitative","title":null,"legend":{"orient":"none","legendX":142,"legendY":0,"gradientLength":141,"gradientThickness":15,"values":[100,200,300,400],"labelFontSize":12,"labelOffset":6,"labelColor":"#333333","gradientStrokeColor":"#808080","gradientStrokeWidth":1,"labelOverlap":false},"scale":{"domain":[45,400],"range":["#352a87","#0f5cdd","#1481d6","#06a4ca","#2eb7a4","#87bf77","#d1bb59","#fec832","#f9fb0e"]}},"stroke":{"field":"b","type":"quantitative","legend":null,"scale":{"domain":[45,400],"range":["#352a87","#0f5cdd","#1481d6","#06a4ca","#2eb7a4","#87bf77","#d1bb59","#fec832","#f9fb0e"]}}}},
{"data":{"name":"corner"},"mark":{"type":"point","opacity":0},"encoding":{"x":{"field":"x","type":"quantitative","scale":{"domain":[-5,5]},"axis":{"orient":"top","values":[-5,0,5],"labels":false,"title":null}},"y":{"field":"y","type":"quantitative","scale":{"domain":[-5,5]},"axis":{"orient":"right","values":[-5,0,5],"labels":false,"title":null}}}}
]},
{"width":138,"height":141,"resolve":{"axis":{"x":"independent","y":"independent"}},"layer":[
{"data":{"name":"cells"},"mark":{"type":"rect","strokeWidth":0.5},"encoding":{"x":{"field":"x0","type":"quantitative","scale":{"domain":[-5,5]},"axis":{"values":[-5,0,5],"labelExpr":"datum.value+''","title":"z (mm)"}},"x2":{"field":"x1"},"y":{"field":"y0","type":"quantitative","scale":{"domain":[-5,5]},"axis":{"values":[-5,0,5],"labelExpr":"datum.value+''","title":"x (mm)"}},"y2":{"field":"y1"},"color":{"field":"c","type":"quantitative","legend":null,"scale":{"domain":[45,400],"range":["#352a87","#0f5cdd","#1481d6","#06a4ca","#2eb7a4","#87bf77","#d1bb59","#fec832","#f9fb0e"]}},"stroke":{"field":"c","type":"quantitative","legend":null,"scale":{"domain":[45,400],"range":["#352a87","#0f5cdd","#1481d6","#06a4ca","#2eb7a4","#87bf77","#d1bb59","#fec832","#f9fb0e"]}}}},
{"data":{"name":"corner"},"mark":{"type":"point","opacity":0},"encoding":{"x":{"field":"x","type":"quantitative","scale":{"domain":[-5,5]},"axis":{"orient":"top","values":[-5,0,5],"labels":false,"title":null}},"y":{"field":"y","type":"quantitative","scale":{"domain":[-5,5]},"axis":{"orient":"right","values":[-5,0,5],"labels":false,"title":null}}}}
]},
{"width":138,"height":141,"title":{"text":"×10⁴","anchor":"start","align":"left","fontSize":13,"fontWeight":"normal","font":"Liberation Serif","color":"#333333","offset":-5,"dx":16},"resolve":{"axis":{"x":"independent","y":"independent"}},"layer":[
{"data":{"values":[
{"d":"x-direction","o":1,"x":5,"y":0},{"d":"x-direction","o":2,"x":-5,"y":0},{"d":"x-direction","o":3,"x":-5,"y":124000},{"d":"x-direction","o":4,"x":-4.9,"y":113000},{"d":"x-direction","o":5,"x":-4.8,"y":103000},{"d":"x-direction","o":6,"x":-4.6,"y":90000},{"d":"x-direction","o":7,"x":-4.33,"y":79500},{"d":"x-direction","o":8,"x":-4,"y":72000},{"d":"x-direction","o":9,"x":-3.6,"y":67500},{"d":"x-direction","o":10,"x":-3,"y":63000},{"d":"x-direction","o":11,"x":-2.4,"y":60500},{"d":"x-direction","o":12,"x":-1.8,"y":58500},{"d":"x-direction","o":13,"x":-1.2,"y":57200},{"d":"x-direction","o":14,"x":-0.6,"y":56600},{"d":"x-direction","o":15,"x":0,"y":56400},{"d":"x-direction","o":16,"x":0.6,"y":56800},{"d":"x-direction","o":17,"x":1.2,"y":58000},{"d":"x-direction","o":18,"x":1.8,"y":60000},{"d":"x-direction","o":19,"x":2.4,"y":63000},{"d":"x-direction","o":20,"x":3,"y":68000},{"d":"x-direction","o":21,"x":3.6,"y":75000},{"d":"x-direction","o":22,"x":4,"y":83000},{"d":"x-direction","o":23,"x":4.33,"y":93000},{"d":"x-direction","o":24,"x":4.6,"y":104000},{"d":"x-direction","o":25,"x":4.8,"y":119000},{"d":"x-direction","o":26,"x":4.9,"y":129000},{"d":"x-direction","o":27,"x":5,"y":140000},{"d":"x-direction","o":28,"x":5,"y":90000},
{"d":"y-direction","o":1,"x":5,"y":0},{"d":"y-direction","o":2,"x":-5,"y":0},{"d":"y-direction","o":3,"x":-5,"y":125000},{"d":"y-direction","o":4,"x":-4.9,"y":114000},{"d":"y-direction","o":5,"x":-4.8,"y":104500},{"d":"y-direction","o":6,"x":-4.6,"y":91500},{"d":"y-direction","o":7,"x":-4.33,"y":80500},{"d":"y-direction","o":8,"x":-4,"y":73000},{"d":"y-direction","o":9,"x":-3.6,"y":68000},{"d":"y-direction","o":10,"x":-3,"y":63500},{"d":"y-direction","o":11,"x":-2.4,"y":60800},{"d":"y-direction","o":12,"x":-1.8,"y":58800},{"d":"y-direction","o":13,"x":-1.2,"y":57400},{"d":"y-direction","o":14,"x":-0.6,"y":56700},{"d":"y-direction","o":15,"x":0,"y":56500},{"d":"y-direction","o":16,"x":0.6,"y":56800},{"d":"y-direction","o":17,"x":1.2,"y":57800},{"d":"y-direction","o":18,"x":1.8,"y":59700},{"d":"y-direction","o":19,"x":2.4,"y":62700},{"d":"y-direction","o":20,"x":3,"y":67200},{"d":"y-direction","o":21,"x":3.6,"y":74000},{"d":"y-direction","o":22,"x":4,"y":82000},{"d":"y-direction","o":23,"x":4.33,"y":91500},{"d":"y-direction","o":24,"x":4.6,"y":102000},{"d":"y-direction","o":25,"x":4.8,"y":116000},{"d":"y-direction","o":26,"x":4.9,"y":126000},{"d":"y-direction","o":27,"x":5,"y":136000},{"d":"y-direction","o":28,"x":5,"y":90000},
{"d":"z-direction","o":1,"x":5,"y":0},{"d":"z-direction","o":2,"x":-5,"y":0},{"d":"z-direction","o":3,"x":-5,"y":122000},{"d":"z-direction","o":4,"x":-4.9,"y":112000},{"d":"z-direction","o":5,"x":-4.8,"y":103000},{"d":"z-direction","o":6,"x":-4.6,"y":91000},{"d":"z-direction","o":7,"x":-4.33,"y":81500},{"d":"z-direction","o":8,"x":-4,"y":74500},{"d":"z-direction","o":9,"x":-3.6,"y":69500},{"d":"z-direction","o":10,"x":-3,"y":64800},{"d":"z-direction","o":11,"x":-2.4,"y":62000},{"d":"z-direction","o":12,"x":-1.8,"y":59700},{"d":"z-direction","o":13,"x":-1.2,"y":58000},{"d":"z-direction","o":14,"x":-0.6,"y":57000},{"d":"z-direction","o":15,"x":0,"y":56700},{"d":"z-direction","o":16,"x":0.6,"y":56800},{"d":"z-direction","o":17,"x":1.2,"y":58000},{"d":"z-direction","o":18,"x":1.8,"y":60000},{"d":"z-direction","o":19,"x":2.4,"y":63200},{"d":"z-direction","o":20,"x":3,"y":68000},{"d":"z-direction","o":21,"x":3.6,"y":75000},{"d":"z-direction","o":22,"x":4,"y":82500},{"d":"z-direction","o":23,"x":4.33,"y":92500},{"d":"z-direction","o":24,"x":4.6,"y":103000},{"d":"z-direction","o":25,"x":4.8,"y":117000},{"d":"z-direction","o":26,"x":4.9,"y":127000},{"d":"z-direction","o":27,"x":5,"y":138000},{"d":"z-direction","o":28,"x":5,"y":90000}
]},"mark":{"type":"line","strokeWidth":1},"encoding":{"x":{"field":"x","type":"quantitative","scale":{"domain":[-5,5]},"axis":{"values":[-5,0,5],"labelExpr":"datum.value+''","title":"Distance (mm)"}},"y":{"field":"y","type":"quantitative","scale":{"domain":[0,150000]},"axis":{"values":[0,50000,100000,150000],"labelExpr":"datum.value/10000","title":null}},"order":{"field":"o","type":"quantitative"},"color":{"field":"d","type":"nominal","title":null,"scale":{"domain":["x-direction","y-direction","z-direction"],"range":["#2020ff","#ff2020","#000000"]},"legend":{"orient":"none","legendX":38.5,"legendY":10,"labelFontSize":12,"labelOffset":4.5,"labelColor":"#333333","symbolType":"M-1.3,0L1.3,0","symbolSize":170,"symbolStrokeWidth":1,"rowPadding":1}}}},
{"data":{"name":"corner"},"mark":{"type":"point","opacity":0},"encoding":{"x":{"field":"x","type":"quantitative","scale":{"domain":[-5,5]},"axis":{"orient":"top","values":[-5,0,5],"labels":false,"title":null}},"y":{"field":"y","type":"quantitative","scale":{"domain":[0,150000]},"axis":{"orient":"right","values":[0,50000,100000,150000],"labels":false,"title":null}}}}
]}
]}
